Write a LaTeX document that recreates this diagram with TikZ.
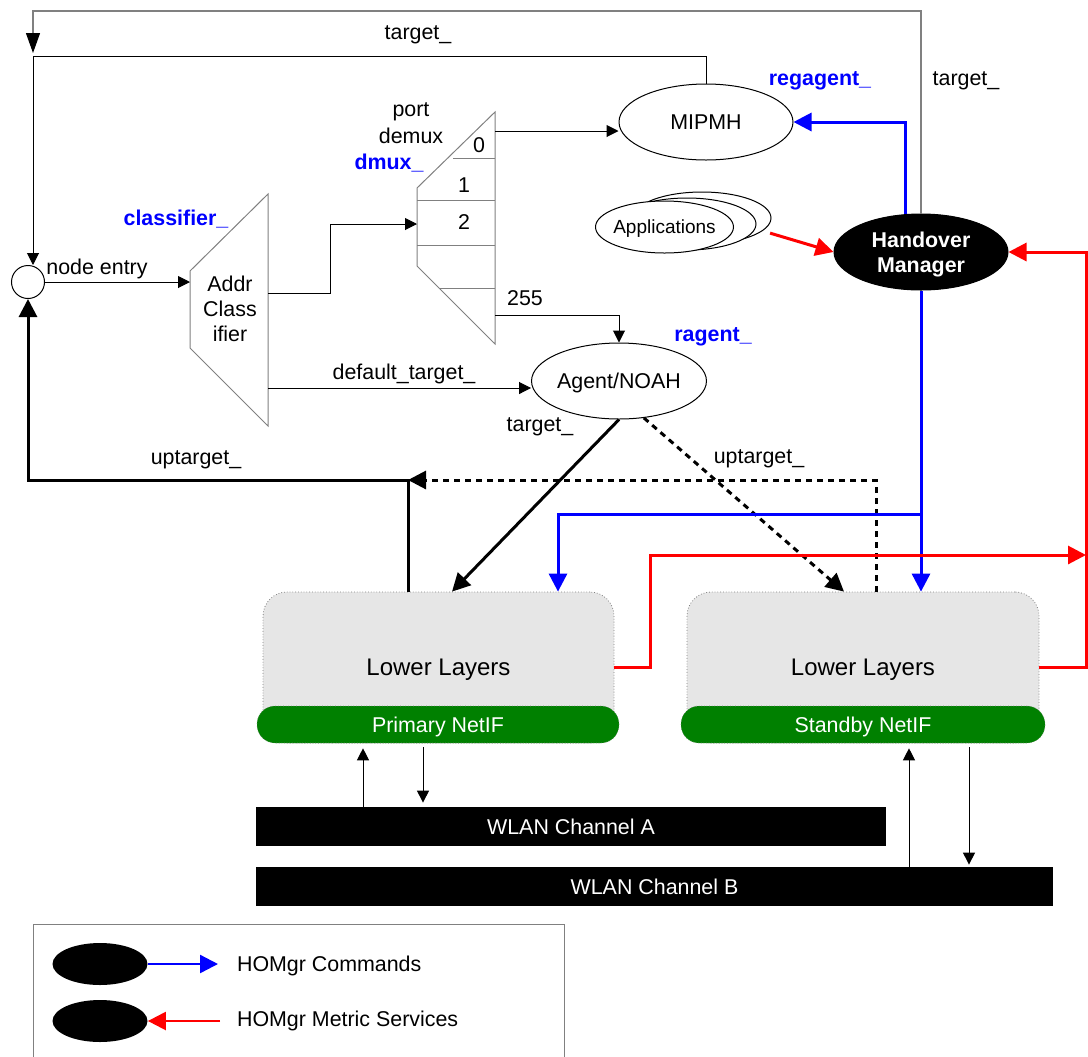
\documentclass[tikz,border=0pt]{standalone}
\usepackage{fontspec}
\setmainfont{Liberation Sans}
\usetikzlibrary{arrows.meta,shapes.geometric}
\definecolor{cmdblue}{HTML}{0000FF}
\definecolor{metricred}{HTML}{FF0000}
\definecolor{nifgreen}{HTML}{008000}
\definecolor{layerbg}{HTML}{E6E6E6}
\definecolor{framegray}{HTML}{808080}
\tikzset{every node/.append style={font=\fontsize{10.7}{12.8}\selectfont,text depth=0pt}}

\begin{document}
\begin{tikzpicture}[x=.5pt,y=-.5pt,
  plainarrow/.style={line width=.5pt,-{Triangle[length=6pt,width=6pt]}},
  heavyarrow/.style={line width=1.5pt,-{Triangle[length=9pt,width=9pt]}},
  uplink/.style={heavyarrow,dash pattern=on 3pt off 2.5pt},
  cmdarrow/.style={heavyarrow,cmdblue},
  metricarrow/.style={heavyarrow,metricred},
  agentnode/.style={draw,ellipse,line width=.5pt,minimum width=87pt,minimum height=38pt,inner sep=0pt},
  appnode/.style={agentnode,fill=white,minimum width=69pt,minimum height=26pt},
  layerbox/.style={draw=framegray,densely dotted,line width=.4pt,fill=layerbg,rounded corners=12pt,
    minimum width=176pt,minimum height=75.5pt,font=\fontsize{12}{14}\selectfont},
  nifbar/.style={draw=framegray,densely dotted,line width=.3pt,fill=nifgreen,text=white,rounded corners=9pt,
    minimum width=182pt,minimum height=18.5pt},
  wlanbar/.style={fill=black,text=white,minimum height=19.5pt,inner sep=0pt},
  varlabel/.style={text=cmdblue,font=\fontsize{10.7}{12.8}\selectfont\bfseries},
  legendmark/.style={ellipse,fill=black,minimum width=47.5pt,minimum height=21pt,inner sep=0pt}]
\useasboundingbox (0,0) rectangle (1088,1056);

% classifier and port demux
\draw[framegray,line width=.5pt] (268,194) -- (268,426) -- (190,348) -- (190,271) -- cycle;
\draw[framegray,line width=.5pt] (495,112) -- (495,344) -- (417,266) -- (417,188) -- cycle;
\draw[framegray,line width=.5pt] (453,158) -- (495,158) (417,200) -- (495,200) (417,245) -- (495,245) (439,288) -- (495,288);
\coordinate (clsin) at (190,282); \coordinate (clsout) at (268,293); \coordinate (clsdef) at (268,388);
\coordinate (dmuxin) at (417,224); \coordinate (dmux0) at (495,131); \coordinate (dmux255) at (495,315);

\node[draw,circle,line width=.5pt,minimum size=16.5pt,inner sep=0pt] (entry) at (28,282) {};
\node[align=center,font=\fontsize{10.7}{12.5}\selectfont] (cls) at (230,309) {Addr\\Class\\ifier};
\node (p0) at (479,145) {0};
\node (p1) at (464,185) {1};
\node (p2) at (464,222) {2};
\node (p255) at (525,298) {255};

\node[agentnode] (mipmh) at (706,122) {MIPMH};
\node[agentnode] (agent) at (619,381) {Agent/NOAH};
\node[agentnode,fill=black,text=white,align=center,font=\fontsize{10.7}{12.5}\selectfont\bfseries] (hm) at (921,252) {Handover\\Manager};
\node[appnode] (app3) at (702,218) {};
\node[appnode] (app2) at (687,224) {};
\node[appnode] (app) at (664.5,227) {};
\node[font=\fontsize{9.5}{11}\selectfont] (applabel) at (app) {Applications};

\node[layerbox,minimum width=175.5pt] (plow) at (438.5,667.5) {Lower Layers};
\node[layerbox] (slow) at (863,667.5) {Lower Layers};
\node[nifbar,minimum width=181pt] (pnif) at (438,724.5) {Primary NetIF};
\node[nifbar] (snif) at (863,724.5) {Standby NetIF};
\node[wlanbar,minimum width=315pt] (wlana) at (571,826.5) {WLAN Channel A};
\node[wlanbar,minimum width=398.5pt] (wlanb) at (654.5,886.5) {WLAN Channel B};

% labels
\node (entrylabel) at (97,267) {node entry};
\node (targettop) at (418,33) {target\_};
\node (targetright) at (966,79) {target\_};
\node[varlabel] (regagent) at (820,79) {regagent\_};
\node[align=center,font=\fontsize{10.7}{13.5}\selectfont] (portdemux) at (411,123.5) {port\\demux};
\node[varlabel] (dmuxlabel) at (389,162) {dmux\_};
\node[varlabel] (clslabel) at (176,218) {classifier\_};
\node (deflabel) at (404,372) {default\_target\_};
\node[varlabel] (ragent) at (713,335) {ragent\_};
\node (agenttarget) at (540,425) {target\_};
\node (uptargetleft) at (196,458) {uptarget\_};
\node (uptargetright) at (759,457) {uptarget\_};

% target_ loops back to node entry
\coordinate (topturn) at (33,11); \coordinate (topdrop) at (33,56);
\draw[framegray,line width=.6pt,-{Triangle[length=10pt,width=7pt,color=black,fill=black]}] (hm.north) |- (topturn) -- ([yshift=1.5pt]topdrop);
\draw[plainarrow] (mipmh.north) |- (topdrop) -- (entry.north -| topdrop);

\draw[plainarrow] (entry.east) -- (clsin);
\draw[plainarrow] (clsout) -- ++(31pt,0) |- (dmuxin);
\draw[plainarrow] (clsdef) -- (clsdef -| agent.west);
\draw[plainarrow] (dmux0) -- (dmux0 -| mipmh.west);
\draw[plainarrow] (dmux255) -| (agent.north);

% agent down to the interfaces, uptarget_ back up
\coordinate (upjoin) at (408,480);
\draw[heavyarrow] (agent.south) -- ([xshift=6.75pt]plow.north);
\draw[uplink] (agent.-56) -- ([xshift=-9.5pt]slow.north);
\draw[uplink] ([xshift=6.5pt]slow.north) |- (upjoin);
\draw[heavyarrow] ([xshift=-15.25pt]plow.north) -- (upjoin) -| (entry.south);

% handover manager commands
\coordinate (cmdsplit) at (921,514);
\draw[cmdarrow] (hm.south) -- (hm.south |- slow.north);
\draw[cmdarrow] (cmdsplit) -| ([xshift=59.75pt]plow.north);
\draw[cmdarrow] ([xshift=-8pt]hm.north) |- (mipmh.east);

% metric services
\coordinate (rail) at (1086,0); \coordinate (metricstep) at (650,555);
\draw[metricarrow] (slow.east) -| (rail |- hm.east) -- (hm.east);
\draw[metricarrow] (plow.east) -| (metricstep) -- (metricstep -| rail);
\draw[metricarrow] ([xshift=2.5pt,yshift=-2pt]app3.-10) -- (hm.west);

% radio links
\draw[plainarrow,shorten >=2.5pt] ([xshift=-37.5pt]pnif.south |- wlana.north) -- ([xshift=-37.5pt]pnif.south);
\draw[plainarrow,shorten <=2pt,shorten >=2pt] ([xshift=-7.5pt]pnif.south) -- ([xshift=-7.5pt]pnif.south |- wlana.north);
\draw[plainarrow,shorten >=2.5pt] ([xshift=23pt]snif.south |- wlanb.north) -- ([xshift=23pt]snif.south);
\draw[plainarrow,shorten <=2pt,shorten >=1pt] ([xshift=53pt]snif.south) -- ([xshift=53pt]snif.south |- wlanb.north);

% legend
\draw[framegray,line width=.5pt] (33,924) rectangle (564,1062);
\node[legendmark] (legcmd) at (100,964) {};
\node[legendmark] (legmet) at (100,1021) {};
\node[anchor=west] (legcmdtext) at (230,964) {HOMgr Commands};
\node[anchor=west] (legmettext) at (230,1019) {HOMgr Metric Services};
\draw[cmdarrow,line width=1.2pt] (legcmd.east) -- ([xshift=-6pt]legcmdtext.west |- legcmd.east);
\draw[metricarrow,line width=1.2pt] ([xshift=-5pt]legmettext.west |- legmet.east) -- (legmet.east);
\end{tikzpicture}
\end{document}
